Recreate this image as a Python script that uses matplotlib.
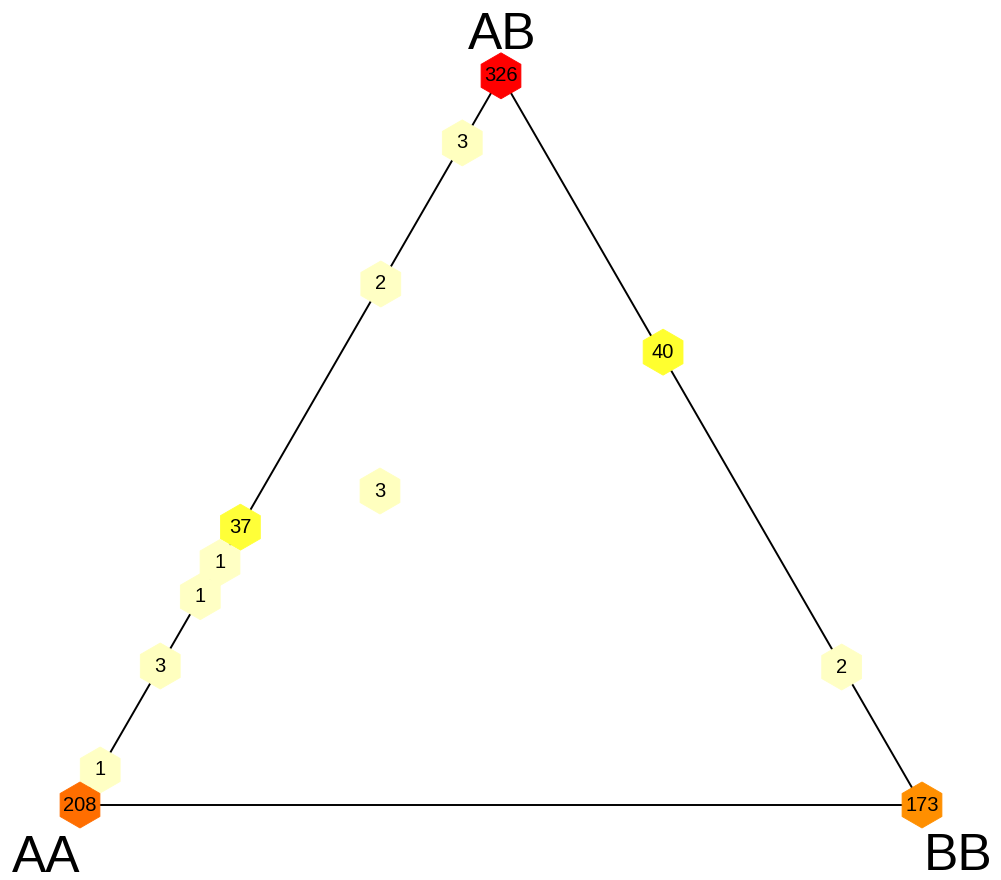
import numpy as np
import matplotlib
matplotlib.use("Agg")
import matplotlib.pyplot as plt
from matplotlib.patches import RegularPolygon
from matplotlib.colors import LinearSegmentedColormap, Normalize

plt.rcParams['font.family'] = ['Liberation Sans', 'DejaVu Sans']

# genotype frequencies per hex bin (fraction AB, fraction BB; AA is the rest)
counts = [326, 3, 2, 40, 3, 37, 1, 1, 3, 1, 208, 2, 173]
frac_ab = [1.0, 0.908, 0.7145, 0.621, 0.4306, 0.381, 0.3326, 0.2857, 0.1906, 0.048, 0.0, 0.1892, 0.0]
frac_bb = [0.0, 0.0, 0.0, 0.382, 0.141, 0.0, 0.0, 0.0, 0.0, 0.0, 0.0, 0.810, 1.0]
vertex_labels = ["AA", "BB", "AB"]

H = np.sqrt(3) / 2


def to_xy(ab, bb):
    ab = np.asarray(ab)
    bb = np.asarray(bb)
    return bb + 0.5 * ab, ab * H


# heat-style colours, light yellow for small counts -> red for big ones
cmap = LinearSegmentedColormap.from_list(
    "heat", [(0.0, "#FFFFC4"), (0.11, "#FFFF38"), (0.16, "#FFFF00"), (1.0, "#FF0000")])
norm = Normalize(vmin=1, vmax=max(counts))

fig = plt.figure(figsize=(10.01, 8.8), dpi=100)
ax = fig.add_axes([0, 0, 1, 1])
ax.set_xlim(-80 / 842, 921 / 842)
ax.set_ylim(-75 / 842, 805 / 842)
ax.axis('off')

# triangle
corners_x = [0, 1, 0.5, 0]
corners_y = [0, 0, H, 0]
ax.plot(corners_x, corners_y, color='black', lw=1.4, zorder=1)

# hexagons
xs, ys = to_xy(frac_ab, frac_bb)
r = 23 / 842
for x, y, c in zip(xs, ys, counts):
    col = cmap(norm(c))
    hexagon = RegularPolygon((x, y), numVertices=6, radius=r, orientation=0,
                             facecolor=col, edgecolor=col, lw=0.6, zorder=2)
    ax.add_patch(hexagon)
    ax.text(x, y, str(c), ha='center', va='center', fontsize=14.5, zorder=3)

# vertex labels
ax.annotate(vertex_labels[0], (0, 0), xytext=(0, -48), textcoords='offset points',
            ha='right', va='baseline', fontsize=37)
ax.annotate(vertex_labels[1], (1, 0), xytext=(1, -47), textcoords='offset points',
            ha='left', va='baseline', fontsize=37)
ax.annotate(vertex_labels[2], (0.5, H), xytext=(1, 19.5), textcoords='offset points',
            ha='center', va='baseline', fontsize=37)

fig.savefig("out.png", dpi=100)
